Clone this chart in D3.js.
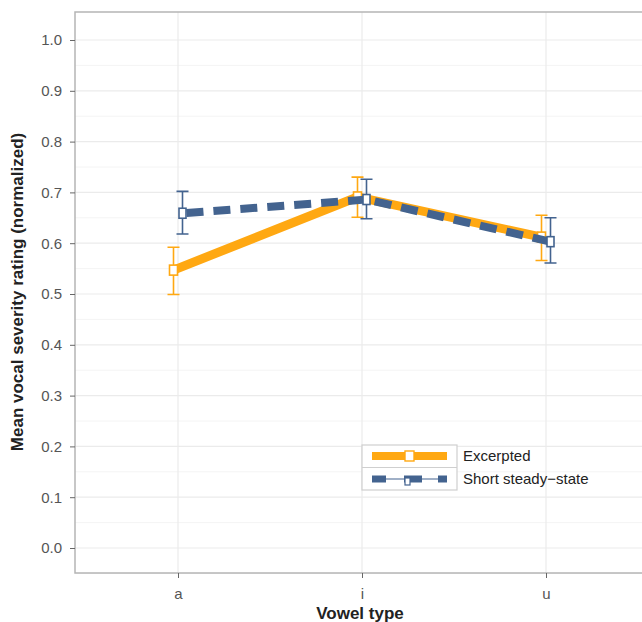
<!DOCTYPE html>
<html><head><meta charset="utf-8">
<script src="https://cdn.jsdelivr.net/npm/d3@7"></script>
<style>body{margin:0;background:#fff}svg{display:block}text{font-family:"Liberation Sans",Arial,sans-serif}</style>
</head><body>
<svg id="c" width="642" height="622"></svg>
<script>
const vowels = ["a","i","u"];
const seriesNames = ["Excerpted","Short steady\u2212state"];
const excMean = [0.547, 0.691, 0.612];
const excLow  = [0.499, 0.651, 0.566];
const excHigh = [0.592, 0.730, 0.655];
const ssMean = [0.659, 0.686, 0.603];
const ssLow  = [0.618, 0.648, 0.561];
const ssHigh = [0.702, 0.726, 0.650];
const yTicks = [0,0.1,0.2,0.3,0.4,0.5,0.6,0.7,0.8,0.9,1.0];

const svg = d3.select("#c");
const panel = {l:75, t:12, r:700, b:573};
const x = d3.scalePoint().domain(vowels).range([178,546]);
const y = d3.scaleLinear().domain([0,1]).range([548,40]);
const grid = "#ebebeb";

// grid
const minor = d3.range(0,1.0,0.1).map(v=>v+0.05).concat([-0.05]);
svg.selectAll(".mn").data(minor).enter().append("line")
 .attr("x1",panel.l).attr("x2",panel.r).attr("y1",d=>y(d)).attr("y2",d=>y(d))
 .attr("stroke","#f4f4f4").attr("stroke-width",1);
svg.selectAll(".mj").data(yTicks).enter().append("line")
 .attr("x1",panel.l).attr("x2",panel.r).attr("y1",d=>y(d)).attr("y2",d=>y(d))
 .attr("stroke",grid).attr("stroke-width",1.2);
svg.selectAll(".vg").data(vowels).enter().append("line")
 .attr("x1",d=>x(d)).attr("x2",d=>x(d)).attr("y1",panel.t).attr("y2",panel.b)
 .attr("stroke",grid).attr("stroke-width",1.2);

// border
svg.append("path").attr("d",`M${panel.r},${panel.t}H${panel.l}V${panel.b}H${panel.r}`)
 .attr("fill","none").attr("stroke","#b5b5b5").attr("stroke-width",1.5);

// axes
const yAxis = d3.axisLeft(y).tickValues(yTicks).tickFormat(d3.format(".1f")).tickSize(5).tickPadding(8);
const gy = svg.append("g").attr("transform",`translate(${panel.l},0)`).call(yAxis);
gy.select(".domain").remove();
gy.selectAll("line").attr("stroke","#666");
gy.selectAll("text").attr("font-size",15).attr("fill","#555").attr("font-family","Liberation Sans, Arial, sans-serif");
const xAxis = d3.axisBottom(x).tickSize(5).tickPadding(10);
const gx = svg.append("g").attr("transform",`translate(0,${panel.b})`).call(xAxis);
gx.select(".domain").remove();
gx.selectAll("line").attr("stroke","#666");
gx.selectAll("text").attr("font-size",15).attr("fill","#555").attr("font-family","Liberation Sans, Arial, sans-serif");

svg.append("text").attr("x",360).attr("y",619).attr("text-anchor","middle")
 .attr("font-size",17).attr("font-weight","bold").attr("fill","#222").text("Vowel type");
svg.append("text").attr("transform","translate(23,292) rotate(-90)").attr("text-anchor","middle")
 .attr("font-size",17).attr("font-weight","bold").attr("fill","#222").text("Mean vocal severity rating (normalized)");

const orange = "#FFA812", blue = "#43638F";
const dodge = 4.5;
function drawSeries(mean, lo, hi, color, off, dashed){
  const pts = vowels.map((v,i)=>({x:x(v)+off, m:mean[i], lo:lo[i], hi:hi[i]}));
  const line = d3.line().x(d=>d.x).y(d=>y(d.m));
  const p = svg.append("path").datum(pts).attr("d",line).attr("fill","none")
   .attr("stroke",color).attr("stroke-width",dashed?8:9);
  if(dashed) p.attr("stroke-dasharray","17,10").attr("stroke-dashoffset",-4);
  const g = svg.append("g");
  g.selectAll(".eb").data(pts).enter().append("path")
   .attr("d",d=>`M${d.x},${y(d.lo)}V${y(d.hi)}M${d.x-6},${y(d.lo)}H${d.x+6}M${d.x-6},${y(d.hi)}H${d.x+6}`)
   .attr("stroke",color).attr("stroke-width",1.6).attr("fill","none");
  g.selectAll(".pt").data(pts).enter().append("rect")
   .attr("x",d=>d.x-(dashed?3.5:4)).attr("y",d=>y(d.m)-5).attr("width",dashed?7:8).attr("height",10)
   .attr("fill","#fff").attr("stroke",color).attr("stroke-width",1.6);
}
drawSeries(excMean, excLow, excHigh, orange, -dodge, false);
drawSeries(ssMean, ssLow, ssHigh, blue, dodge, true);

// legend
const lg = svg.append("g");
lg.append("rect").attr("x",362).attr("y",445).attr("width",95).attr("height",45)
 .attr("fill","#fff").attr("stroke","#cfcfcf").attr("stroke-width",1.2);
lg.append("line").attr("x1",362).attr("x2",457).attr("y1",467.5).attr("y2",467.5).attr("stroke","#cfcfcf");
lg.append("line").attr("x1",372).attr("x2",447).attr("y1",456).attr("y2",456).attr("stroke",orange).attr("stroke-width",8);
lg.append("rect").attr("x",405).attr("y",451).attr("width",9).attr("height",10).attr("fill","#fff").attr("stroke",orange).attr("stroke-width",1.4);
lg.append("line").attr("x1",372).attr("x2",447).attr("y1",479).attr("y2",479).attr("stroke",blue).attr("stroke-width",1.2);
[[372,386],[404,422],[438,447]].forEach(s=>lg.append("line").attr("x1",s[0]).attr("x2",s[1]).attr("y1",479).attr("y2",479).attr("stroke",blue).attr("stroke-width",7));
lg.append("rect").attr("x",405).attr("y",478).attr("width",5).attr("height",7).attr("fill","#fff").attr("stroke",blue).attr("stroke-width",1.2);
lg.selectAll(".lt").data(seriesNames).enter().append("text")
 .attr("x",463).attr("y",(d,i)=>461+i*23).attr("font-size",15).attr("fill","#222").text(d=>d);
</script>
</body></html>
